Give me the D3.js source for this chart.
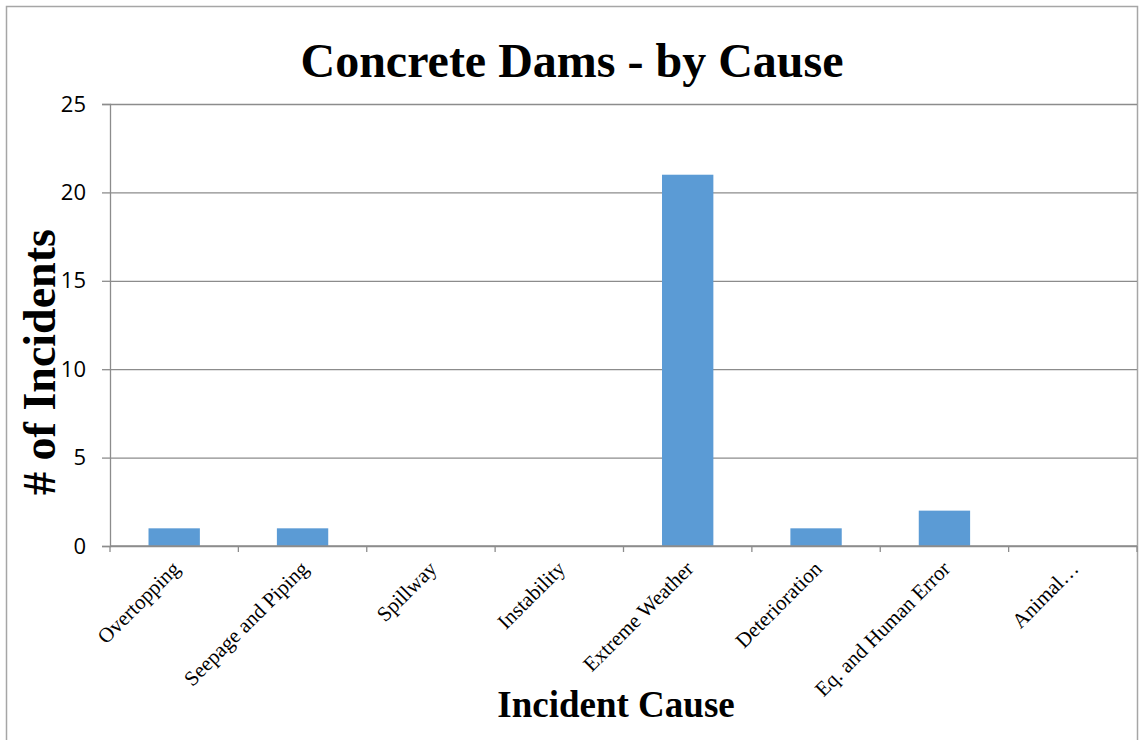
<!DOCTYPE html>
<html>
<head>
<meta charset="utf-8">
<script src="https://cdn.jsdelivr.net/npm/d3@7"></script>
<style>
  html, body { margin: 0; padding: 0; background: #fff; }
  svg { display: block; }
</style>
</head>
<body>
<svg id="chart" width="1139" height="740"></svg>
<script>
// Incident counts for concrete dams, grouped by cause
const categories = ["Overtopping", "Seepage and Piping", "Spillway", "Instability",
  "Extreme Weather", "Deterioration", "Eq. and Human Error", "Animal\u2026"];
const incidents = [1, 1, 0, 0, 21, 1, 2, 0];
const yTicks = [0, 5, 10, 15, 20, 25];

const svg = d3.select("#chart");
const W = 1139, H = 740;
const plot = { left: 110, top: 104, right: 1137, bottom: 546 };
const serif = "'Liberation Serif', 'Times New Roman', serif";

// outer chart frame
svg.append("rect")
  .attr("x", 6.5).attr("y", 6.5)
  .attr("width", 1137 - 6).attr("height", H + 10)
  .attr("fill", "#fff").attr("stroke", "#a6a6a6").attr("stroke-width", 1.5);

const x = d3.scaleBand().domain(categories)
  .range([plot.left, plot.right]).paddingInner(0.6).paddingOuter(0.3);
const y = d3.scaleLinear().domain([0, 25]).range([plot.bottom, plot.top]);

// horizontal gridlines with tick labels
const yAxis = d3.axisLeft(y).tickValues(yTicks).tickSize(8).tickPadding(16);
const gy = svg.append("g").attr("transform", `translate(${plot.left},0)`).call(yAxis);
gy.select(".domain").attr("stroke", "#8c8c8c").attr("stroke-width", 1.3);
gy.selectAll(".tick line").attr("stroke", "#8c8c8c").attr("stroke-width", 1.3);
gy.selectAll(".tick text")
  .attr("font-family", "'Open Sans', 'Liberation Sans', sans-serif")
  .attr("font-size", 22).attr("fill", "#000");
gy.selectAll(".tick").append("line")
  .attr("x1", 0).attr("x2", plot.right - plot.left)
  .attr("stroke", "#8c8c8c").attr("stroke-width", 1.3);

// bars
svg.append("g").selectAll("rect").data(categories).join("rect")
  .attr("x", d => x(d))
  .attr("width", x.bandwidth())
  .attr("y", (d, i) => y(incidents[i]))
  .attr("height", (d, i) => y(0) - y(incidents[i]))
  .attr("fill", "#5b9bd5");

// category axis with ticks between bands
const step = x.step();
const bounds = d3.range(categories.length + 1).map(i => plot.left + i * step);
const gx = svg.append("g");
gx.append("line").attr("x1", plot.left).attr("x2", plot.right)
  .attr("y1", plot.bottom).attr("y2", plot.bottom)
  .attr("stroke", "#8c8c8c").attr("stroke-width", 1.3);
gx.selectAll("line.tk").data(bounds).join("line").attr("class", "tk")
  .attr("x1", d => d).attr("x2", d => d)
  .attr("y1", plot.bottom).attr("y2", plot.bottom + 6)
  .attr("stroke", "#8c8c8c").attr("stroke-width", 1.3);
gx.selectAll("text").data(categories).join("text")
  .attr("transform", d => `translate(${x(d) + x.bandwidth() / 2 + 7},${plot.bottom + 24}) rotate(-45)`)
  .attr("text-anchor", "end")
  .attr("font-family", serif)
  .attr("font-size", 21).attr("fill", "#000")
  .text(d => d);

// titles
svg.append("text").attr("x", 572).attr("y", 77).attr("text-anchor", "middle")
  .attr("font-family", serif)
  .attr("font-weight", "bold").attr("font-size", 48)
  .text("Concrete Dams - by Cause");

svg.append("text").attr("transform", "translate(55,362) rotate(-90)")
  .attr("text-anchor", "middle")
  .attr("font-family", serif)
  .attr("font-weight", "bold").attr("font-size", 46)
  .text("# of Incidents");

svg.append("text").attr("x", 616).attr("y", 717).attr("text-anchor", "middle")
  .attr("font-family", serif)
  .attr("font-weight", "bold").attr("font-size", 37)
  .text("Incident Cause");
</script>
</body>
</html>
